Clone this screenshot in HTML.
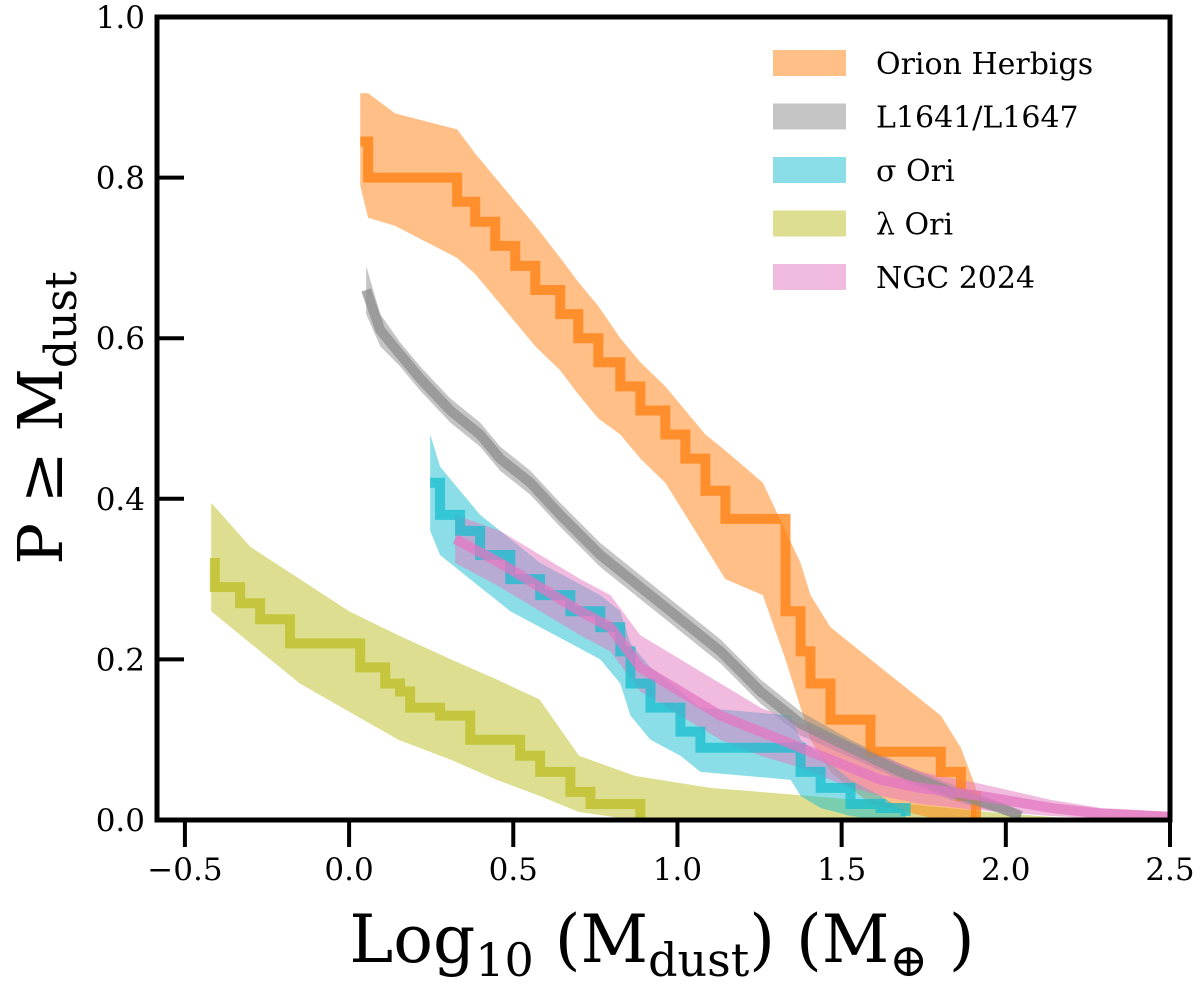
<!DOCTYPE html>
<html><head><meta charset="utf-8"><style>
html,body{margin:0;padding:0;background:#fff;}
svg text{font-family:"DejaVu Serif","Liberation Serif",serif;}
</style></head><body>
<svg id="chart" width="1200" height="987" viewBox="0 0 1200 987" xmlns="http://www.w3.org/2000/svg" style="position:absolute;left:0;top:0">
<g id="bands"></g>
<g id="lines"></g>
<g id="axes"></g>
<g id="legend"></g>
</svg>
<script>
const xTicks = [-0.5, 0.0, 0.5, 1.0, 1.5, 2.0, 2.5];
const xTickLabels = ["\u22120.5","0.0","0.5","1.0","1.5","2.0","2.5"];
const yTicks = [0.0, 0.2, 0.4, 0.6, 0.8, 1.0];
const yTickLabels = ["0.0","0.2","0.4","0.6","0.8","1.0"];
const seriesNames = ["Orion Herbigs","L1641/L1647","\u03c3 Ori","\u03bb Ori","NGC 2024"];

const orionX = [0.034,0.058,0.14,0.329,0.384,0.445,0.506,0.567,0.643,0.698,0.759,0.826,0.887,0.963,1.024,1.085,1.146,1.260,1.329,1.375,1.405,1.466,1.588,1.802,1.863,1.909];
const orionY = [0.845,0.80,0.80,0.77,0.745,0.715,0.69,0.66,0.63,0.60,0.57,0.54,0.51,0.48,0.45,0.41,0.375,0.375,0.26,0.21,0.17,0.125,0.085,0.06,0.03,0.0];
const orionHi = [0.905,0.905,0.88,0.86,0.83,0.80,0.77,0.74,0.70,0.67,0.64,0.60,0.57,0.54,0.51,0.48,0.46,0.42,0.36,0.32,0.28,0.24,0.20,0.13,0.09,0.04];
const orionLo = [0.79,0.75,0.74,0.70,0.68,0.65,0.62,0.59,0.56,0.53,0.50,0.48,0.45,0.42,0.38,0.34,0.30,0.28,0.20,0.14,0.10,0.06,0.02,0.0,0.0,0.0];

const grayX = [0.052,0.095,0.155,0.216,0.308,0.399,0.460,0.552,0.643,0.765,0.887,1.009,1.131,1.253,1.375,1.527,1.680,1.832,1.985,2.046];
const grayY = [0.66,0.61,0.58,0.55,0.51,0.48,0.45,0.42,0.38,0.33,0.29,0.25,0.21,0.16,0.12,0.09,0.06,0.035,0.015,0.005];
const grayHi = [0.69,0.63,0.595,0.565,0.525,0.495,0.465,0.435,0.395,0.345,0.305,0.265,0.225,0.175,0.135,0.10,0.07,0.045,0.022,0.01];
const grayLo = [0.63,0.59,0.565,0.535,0.495,0.465,0.435,0.405,0.365,0.315,0.275,0.235,0.195,0.145,0.105,0.078,0.05,0.025,0.008,0.0];

const sigmaX = [0.247,0.277,0.338,0.399,0.491,0.582,0.674,0.765,0.826,0.857,0.918,1.009,1.070,1.345,1.375,1.436,1.527,1.619,1.695];
const sigmaY = [0.42,0.38,0.36,0.33,0.30,0.28,0.26,0.24,0.21,0.17,0.14,0.11,0.09,0.09,0.06,0.04,0.02,0.015,0.005];
const sigmaHi = [0.48,0.44,0.41,0.38,0.35,0.32,0.30,0.28,0.26,0.22,0.19,0.16,0.14,0.13,0.10,0.08,0.05,0.03,0.01];
const sigmaLo = [0.36,0.33,0.31,0.29,0.26,0.24,0.22,0.20,0.17,0.13,0.10,0.08,0.06,0.05,0.03,0.015,0.005,0.0,0.0];

const ngcX = [0.323,0.460,0.582,0.704,0.796,0.887,1.009,1.131,1.253,1.375,1.497,1.619,1.741,1.924,2.137,2.290,2.503];
const ngcY = [0.35,0.32,0.29,0.26,0.24,0.19,0.16,0.13,0.11,0.09,0.07,0.05,0.04,0.03,0.015,0.008,0.004];
const ngcHi = [0.38,0.36,0.33,0.30,0.28,0.23,0.20,0.17,0.14,0.12,0.10,0.08,0.06,0.045,0.025,0.015,0.01];
const ngcLo = [0.32,0.29,0.26,0.23,0.21,0.16,0.13,0.10,0.08,0.065,0.045,0.03,0.02,0.012,0.005,0.002,0.0];

const lamX = [-0.424,-0.409,-0.332,-0.271,-0.180,0.003,0.034,0.110,0.155,0.186,0.277,0.369,0.460,0.521,0.582,0.674,0.735,0.887];
const lamY = [0.32,0.29,0.27,0.25,0.22,0.22,0.19,0.17,0.16,0.14,0.13,0.10,0.10,0.08,0.06,0.035,0.02,0.0];
const lamBandX = [-0.42,-0.3,-0.15,0.0,0.15,0.31,0.45,0.58,0.70,0.87,1.1,1.4,1.7,2.0,2.2];
const lamHi = [0.395,0.34,0.30,0.26,0.23,0.20,0.175,0.15,0.08,0.055,0.04,0.03,0.02,0.008,0.002];
const lamLo = [0.26,0.22,0.17,0.135,0.10,0.075,0.05,0.03,0.01,0,0,0,0,0,0];

const L=157,R=1170,T=17,B=820;
const X0=-0.585,X1=2.5;
function sx(v){return L+(v-X0)/(X1-X0)*(R-L);}
function sy(v){return B-v*(B-T);}
const NS="http://www.w3.org/2000/svg";
function mk(tag,parent){const e=document.createElementNS(NS,tag);parent.appendChild(e);return e;}

const bandsG=document.getElementById('bands'), linesG=document.getElementById('lines');
function band(xs,hi,lo,fill,name){
  let pts=[];
  for(let i=0;i<xs.length;i++)pts.push(sx(xs[i])+','+sy(hi[i]));
  for(let i=xs.length-1;i>=0;i--)pts.push(sx(xs[i])+','+sy(lo[i]));
  const p=mk('polygon',bandsG);
  p.setAttribute('points',pts.join(' '));
  p.setAttribute('fill',fill);p.setAttribute('fill-opacity','0.5');
  
  
}
function step(xs,ys,color,name,smooth){
  let d='M'+sx(xs[0])+','+sy(ys[0]);
  for(let i=1;i<xs.length;i++){
    if(smooth) d+=' L'+sx(xs[i])+','+sy(ys[i]);
    else d+=' H'+sx(xs[i])+' V'+sy(ys[i]);
  }
  const p=mk('path',linesG);
  p.setAttribute('d',d);p.setAttribute('fill','none');
  p.setAttribute('stroke',color);p.setAttribute('stroke-width','10');p.setAttribute('stroke-opacity','0.75');
  
  
}
band(lamBandX,lamHi,lamLo,'#bcbd22','lambda-ori-band');
band(orionX,orionHi,orionLo,'#ff7f0e','orion-herbigs-band');
band(grayX,grayHi,grayLo,'#8c8c8c','l1641-band');
band(sigmaX,sigmaHi,sigmaLo,'#17becf','sigma-ori-band');
band(ngcX,ngcHi,ngcLo,'#e377c2','ngc2024-band');
step(lamX,lamY,'#bcbd22','lambda-ori-line',false);
step(orionX,orionY,'#ff7f0e','orion-herbigs-line',false);
step(grayX,grayY,'#8c8c8c','l1641-line',true);
step(sigmaX,sigmaY,'#17becf','sigma-ori-line',false);
step(ngcX,ngcY,'#e377c2','ngc2024-line',true);

const ax=document.getElementById('axes');
const frame=mk('rect',ax);
frame.setAttribute('x',L);frame.setAttribute('y',T);frame.setAttribute('width',R-L);frame.setAttribute('height',B-T);
frame.setAttribute('fill','none');frame.setAttribute('stroke','#000');frame.setAttribute('stroke-width','5');


xTicks.forEach((v,i)=>{
  const t=mk('line',ax);
  t.setAttribute('x1',sx(v));t.setAttribute('x2',sx(v));t.setAttribute('y1',B);t.setAttribute('y2',B+27);
  t.setAttribute('stroke','#000');t.setAttribute('stroke-width','4');
  
  
  const tx=mk('text',ax);
  tx.setAttribute('x',sx(v));tx.setAttribute('y',B+60);tx.setAttribute('text-anchor','middle');tx.setAttribute('font-size','31');
  tx.textContent=xTickLabels[i];
  
  
});
yTicks.forEach((v,i)=>{
  const t=mk('line',ax);
  t.setAttribute('x1',L);t.setAttribute('x2',L+27);t.setAttribute('y1',sy(v));t.setAttribute('y2',sy(v));
  t.setAttribute('stroke','#000');t.setAttribute('stroke-width','4');
  
  
  const tx=mk('text',ax);
  tx.setAttribute('x',145);tx.setAttribute('y',sy(v)+11);tx.setAttribute('text-anchor','end');tx.setAttribute('font-size','31');
  tx.textContent=yTickLabels[i];
  
  
});

const lg=document.getElementById('legend');
const legColors=['#ff7f0e','#8c8c8c','#17becf','#bcbd22','#e377c2'];
seriesNames.forEach((n,i)=>{
  const cy=63+i*53.5;
  const r=mk('rect',lg);
  r.setAttribute('x',773);r.setAttribute('y',cy-13);r.setAttribute('width',73);r.setAttribute('height',26);
  r.setAttribute('fill',legColors[i]);r.setAttribute('fill-opacity','0.5');
  
  
  const t=mk('text',lg);
  t.setAttribute('x',876);t.setAttribute('y',cy+11);t.setAttribute('font-size','30');
  t.textContent=n;
  
  
});
</script>
<svg style="position:absolute;left:0;top:0" width="1200" height="987">
<text x="662" y="962" text-anchor="middle" font-size="66" font-family="DejaVu Serif, serif">Log<tspan font-size="46" dy="14">10</tspan><tspan dy="-14"> (M</tspan><tspan font-size="46" dy="14">dust</tspan><tspan dy="-14">) (M</tspan><tspan font-size="46" dy="14">⊕</tspan><tspan dy="-14"> )</tspan></text>
<text transform="translate(62,418) rotate(-90)" text-anchor="middle" font-size="62" font-family="DejaVu Serif, serif">P ≥ M<tspan font-size="44" dy="14">dust</tspan></text>
</svg>
</body></html>
